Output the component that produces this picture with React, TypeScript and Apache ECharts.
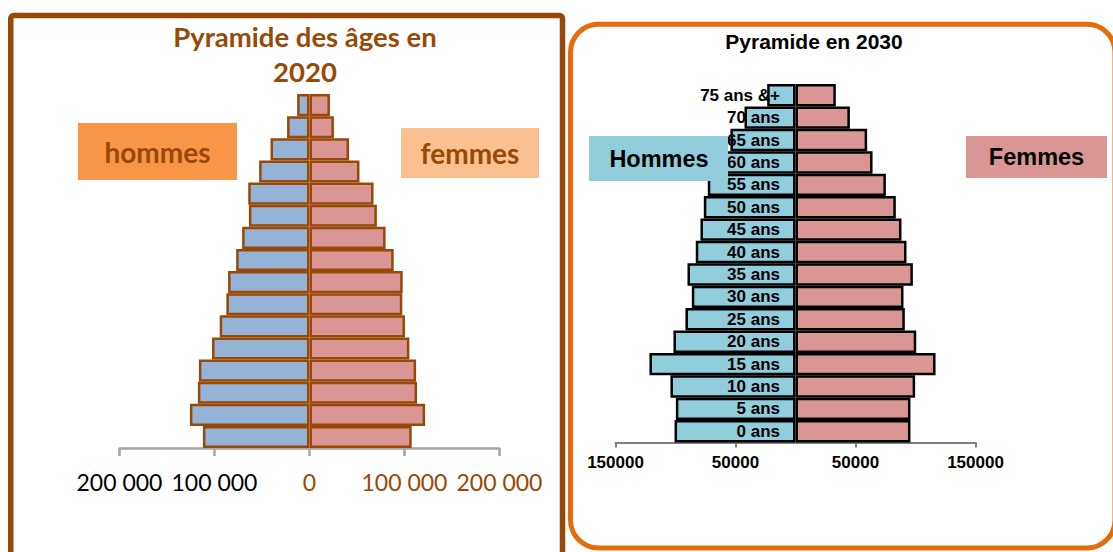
import React, { useEffect, useRef } from "react";
import * as echarts from "echarts";

// Age groups (bottom to top)
const ageGroups = [
  "0 ans", "5 ans", "10 ans", "15 ans", "20 ans", "25 ans", "30 ans", "35 ans",
  "40 ans", "45 ans", "50 ans", "55 ans", "60 ans", "65 ans", "70 ans", "75 ans &+",
];

// 2020 pyramid (bottom to top)
const hommes2020 = [112200, 125900, 117500, 116400, 102600, 94500, 87500, 85700, 77200, 70900, 63800, 64500, 53000, 41000, 23600, 13000];
const femmes2020 = [107600, 121700, 113200, 112200, 105100, 100500, 97700, 98100, 88600, 80100, 70900, 67400, 52600, 41600, 25700, 21500];

// 2030 pyramid (bottom to top)
const hommes2030 = [100800, 99700, 104200, 121700, 101700, 91700, 86400, 90000, 83100, 79200, 76400, 73100, 62000, 54200, 42500, 23600];
const femmes2030 = [95800, 95800, 99700, 116700, 100600, 91100, 90000, 97800, 92500, 88300, 83600, 75300, 64200, 59700, 45300, 33600];

const ticks2030 = [-150000, -50000, 50000, 150000];

const BROWN = "#984807";
const fmtSpace = (n: number) => String(n).replace(/\B(?=(\d{3})+(?!\d))/g, " ");

export default function App() {
  const ref = useRef<HTMLDivElement>(null);
  useEffect(() => {
    if (!ref.current) return;
    const chart = echarts.init(ref.current, undefined, { renderer: "svg" });
    const lato = "Lato";
    const arial = "Liberation Sans";
    chart.setOption({
      animation: false,
      grid: [
        { left: 119.5, width: 380, top: 94, height: 354 },
        { left: 615.5, width: 360, top: 84, height: 358.5 },
      ],
      xAxis: [
        {
          gridIndex: 0,
          type: "value",
          min: -200000,
          max: 200000,
          interval: 100000,
          splitLine: { show: false },
          axisLine: { show: true, onZero: false, lineStyle: { color: "#a6a6a6", width: 2.5 } },
          axisTick: { show: true, length: 8, lineStyle: { color: "#a6a6a6", width: 2.5 } },
          axisLabel: {
            margin: 22,
            formatter: (v: number) => `{${v < 0 ? "n" : "p"}|${fmtSpace(Math.abs(v))}}`,
            rich: {
              n: { fontFamily: lato, fontSize: 23, color: "#000" },
              p: { fontFamily: lato, fontSize: 23, color: BROWN },
            },
          },
        },
        {
          gridIndex: 1,
          type: "value",
          min: -150000,
          max: 150000,
          splitLine: { show: false },
          axisLine: { show: true, onZero: false, lineStyle: { color: "#7f7f7f", width: 2 } },
          axisTick: { show: true, length: 5, customValues: ticks2030, lineStyle: { color: "#7f7f7f", width: 2 } },
          axisLabel: {
            customValues: ticks2030,
            margin: 11,
            formatter: (v: number) => String(Math.abs(v)),
            fontFamily: arial,
            fontWeight: "bold",
            fontSize: 17,
            color: "#000",
          },
        },
      ],
      yAxis: [
        { gridIndex: 0, type: "category", data: ageGroups, show: false },
        {
          gridIndex: 1,
          type: "category",
          data: ageGroups,
          z: 10,
          axisLine: { show: false, onZero: false },
          axisTick: { show: false },
          axisLabel: {
            interval: 0,
            margin: -164.5,
            fontFamily: arial,
            fontWeight: "bold",
            fontSize: 17,
            color: "#000",
          },
        },
      ],
      series: [
        {
          type: "bar", xAxisIndex: 0, yAxisIndex: 0,
          data: hommes2020.map((v) => -v),
          barGap: "-100%", barCategoryGap: "0%",
          itemStyle: { color: "#95b3d7", borderColor: BROWN, borderWidth: 2.5 },
        },
        {
          type: "bar", xAxisIndex: 0, yAxisIndex: 0,
          data: femmes2020,
          barGap: "-100%", barCategoryGap: "0%",
          itemStyle: { color: "#da9694", borderColor: BROWN, borderWidth: 2.5 },
        },
        {
          type: "bar", xAxisIndex: 1, yAxisIndex: 1,
          data: hommes2030.map((v) => -v),
          barGap: "-100%", barCategoryGap: "0%",
          itemStyle: { color: "#92cddc", borderColor: "#000", borderWidth: 2.5 },
        },
        {
          type: "bar", xAxisIndex: 1, yAxisIndex: 1,
          data: femmes2030,
          barGap: "-100%", barCategoryGap: "0%",
          itemStyle: { color: "#da9694", borderColor: "#000", borderWidth: 2.5 },
        },
      ],
      graphic: [
        {
          type: "rect", z: 100, silent: true,
          shape: { x: 10.75, y: 15.5, width: 551.75, height: 620, r: 3 },
          style: { fill: "none", stroke: BROWN, lineWidth: 5.5 },
        },
        {
          type: "rect", z: 100, silent: true,
          shape: { x: 570.5, y: 24.2, width: 544.5, height: 523.8, r: 28 },
          style: { fill: "none", stroke: "#e46c0a", lineWidth: 5 },
        },
        {
          type: "text", z: 100, x: 305, y: 54,
          style: {
            text: "Pyramide des âges en\n2020", fill: BROWN, font: `bold 27.5px ${lato}`,
            lineHeight: 34.5, align: "center", verticalAlign: "middle",
          },
        },
        {
          type: "text", z: 100, x: 814, y: 41.5,
          style: {
            text: "Pyramide en 2030", fill: "#000", font: `bold 21px "${arial}"`,
            align: "center", verticalAlign: "middle",
          },
        },
        { type: "rect", z: 100, shape: { x: 78, y: 123, width: 159, height: 57 }, style: { fill: "#f79646" } },
        {
          type: "text", z: 101, x: 157.5, y: 152,
          style: { text: "hommes", fill: BROWN, font: `bold 28px ${lato}`, align: "center", verticalAlign: "middle" },
        },
        { type: "rect", z: 100, shape: { x: 401, y: 128, width: 138, height: 50 }, style: { fill: "#fac090" } },
        {
          type: "text", z: 101, x: 470, y: 153,
          style: { text: "femmes", fill: BROWN, font: `bold 28px ${lato}`, align: "center", verticalAlign: "middle" },
        },
        { type: "rect", z: 100, shape: { x: 589, y: 136, width: 139, height: 45 }, style: { fill: "#92cddc" } },
        {
          type: "text", z: 101, x: 659, y: 158.5,
          style: { text: "Hommes", fill: "#000", font: `bold 23.5px "${arial}"`, align: "center", verticalAlign: "middle" },
        },
        { type: "rect", z: 100, shape: { x: 966, y: 136, width: 141, height: 42 }, style: { fill: "#da9694" } },
        {
          type: "text", z: 101, x: 1036.5, y: 157,
          style: { text: "Femmes", fill: "#000", font: `bold 23.5px "${arial}"`, align: "center", verticalAlign: "middle" },
        },
      ],
    });
    return () => chart.dispose();
  }, []);
  return (
    <div
      ref={ref}
      style={{ position: "fixed", left: 0, top: 0, width: 1113, height: 552, background: "#fff" }}
    />
  );
}
